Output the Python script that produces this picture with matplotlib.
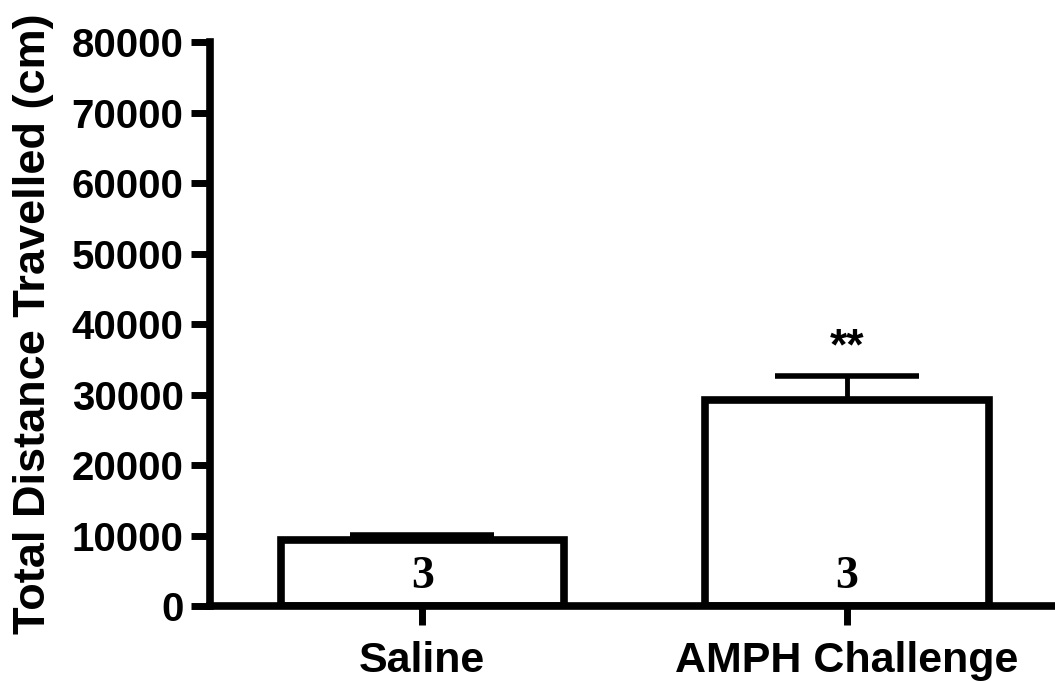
import matplotlib
matplotlib.use("Agg")
import matplotlib.pyplot as plt

categories = ["Saline", "AMPH Challenge"]
means = [9400, 29200]
errors = [650, 3400]
n_labels = ["3", "3"]
sig_labels = ["", "**"]
yticks = [0, 10000, 20000, 30000, 40000, 50000, 60000, 70000, 80000]

plt.rcParams['font.family'] = ['Liberation Sans', 'DejaVu Sans']

fig = plt.figure(figsize=(10.55, 6.81), dpi=100)
ax = fig.add_axes([0.199, 0.110, 0.801, 0.828])

x = list(range(len(categories)))
ax.bar(x, means, width=0.667, color='white', edgecolor='black', linewidth=5.5, zorder=2)
eb = ax.errorbar(x, means, yerr=[[0]*len(errors), errors], fmt='none', ecolor='black',
                 elinewidth=3.5, capsize=52, capthick=4, zorder=1)
for cap in eb[1]:
    cap.set_solid_capstyle('round')
    cap.set_dash_capstyle('round')

for xi, lab in zip(x, n_labels):
    ax.text(xi, 2600, lab, ha='center', va='baseline', fontsize=33,
            fontfamily='Liberation Serif', fontweight='bold', zorder=3)
for xi, m, e, lab in zip(x, means, errors, sig_labels):
    if lab:
        ax.text(xi, 35000, lab, ha='center', va='baseline', fontsize=32,
                fontweight='bold', zorder=3)

ax.set_xlim(-0.5, 1.49)
ax.set_ylim(0, 80000)
ax.set_yticks(yticks)
ax.set_yticklabels([str(v) for v in yticks], fontsize=29, fontweight='bold')
ax.set_xticks(x)
ax.set_xticklabels(categories, fontsize=31, fontweight='bold')
ax.set_ylabel("Total Distance Travelled (cm)", fontsize=32.5, fontweight='bold', labelpad=13)

for s in ['top', 'right']:
    ax.spines[s].set_visible(False)
for s in ['left', 'bottom']:
    ax.spines[s].set_linewidth(5.5)
    ax.spines[s].set_capstyle('projecting')
ax.tick_params(axis='both', direction='out', length=14, width=5, pad=5)
ax.tick_params(axis='x', pad=11)
for t in ax.xaxis.get_ticklines() + ax.yaxis.get_ticklines():
    t.set_solid_capstyle('round')

fig.savefig("out.png", dpi=100)
